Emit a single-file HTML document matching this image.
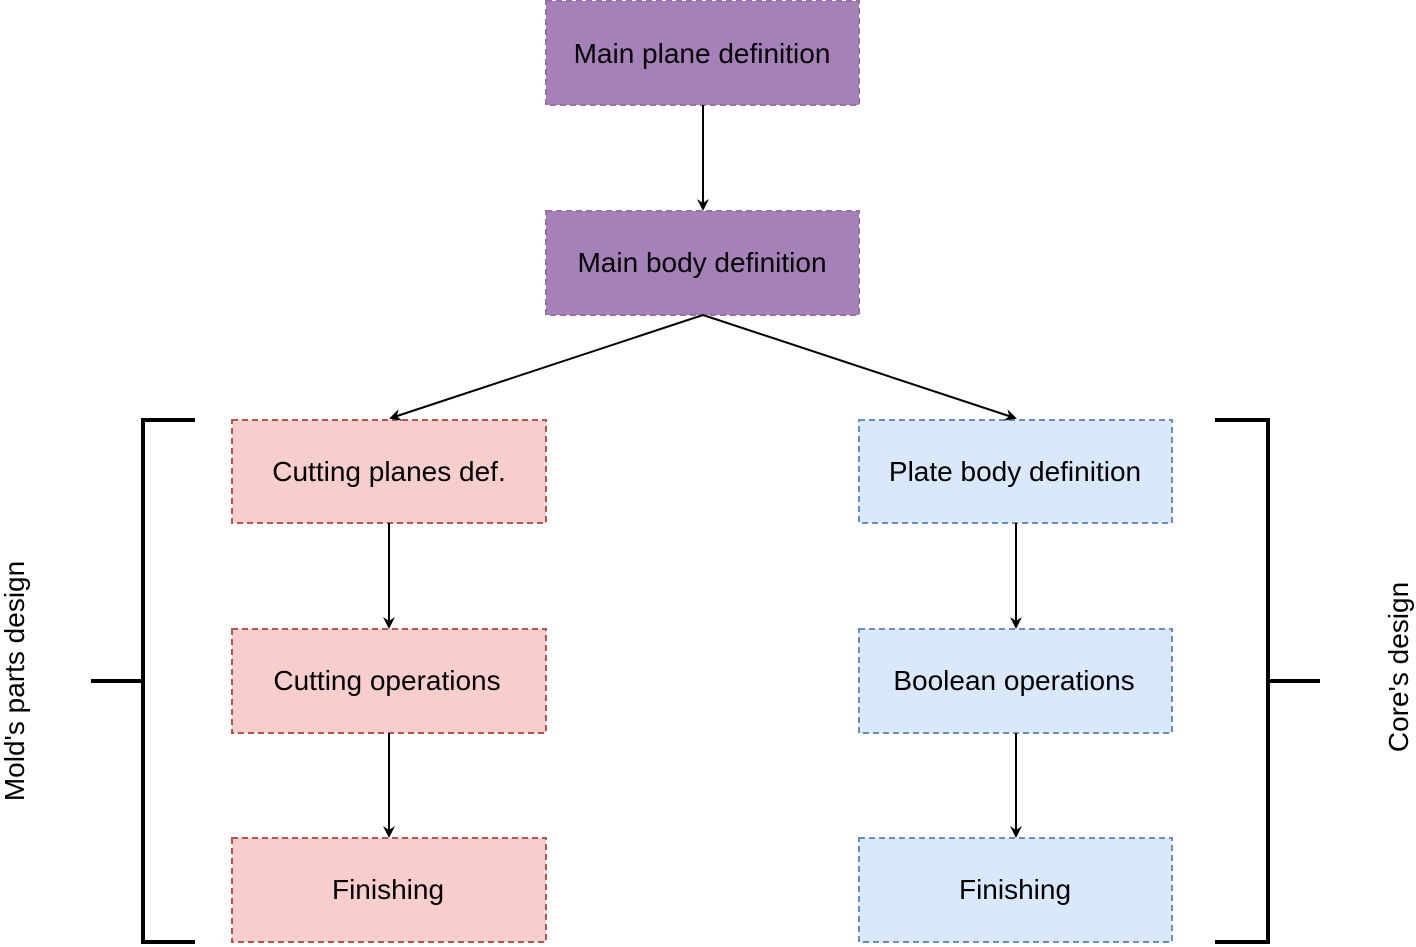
<!DOCTYPE html>
<html><head><style>body{margin:0;background:#fff}svg{display:block}</style></head><body>
<svg width="1416" height="947" viewBox="0 0 1416 947" font-family="Liberation Sans, Arial, sans-serif" font-size="28">
<defs><marker id="a" markerWidth="12" markerHeight="12" refX="10" refY="6" orient="auto" markerUnits="userSpaceOnUse"><path d="M0,0 L12,6 L0,12 L4,6 z" fill="#000"/></marker></defs>
<g stroke-dasharray="6,4" stroke-width="2">
<rect x="546" y="1" width="313" height="104" fill="#a680b8" stroke="#9673a6"/>
<rect x="546" y="211" width="313" height="104" fill="#a680b8" stroke="#9673a6"/>
<rect x="232" y="420" width="314" height="103" fill="#f8cecc" stroke="#b85450"/>
<rect x="232" y="629" width="314" height="104" fill="#f8cecc" stroke="#b85450"/>
<rect x="232" y="838" width="314" height="104" fill="#f8cecc" stroke="#b85450"/>
<rect x="859" y="420" width="313" height="103" fill="#dae8fc" stroke="#6c8ebf"/>
<rect x="859" y="629" width="313" height="104" fill="#dae8fc" stroke="#6c8ebf"/>
<rect x="859" y="838" width="313" height="104" fill="#dae8fc" stroke="#6c8ebf"/>
</g>
<g stroke="#000" stroke-width="2" fill="none" marker-end="url(#a)">
<line x1="703" y1="105" x2="703" y2="209"/>
<line x1="703" y1="315" x2="391" y2="418"/>
<line x1="703" y1="315" x2="1015" y2="418"/>
<line x1="389" y1="523" x2="389" y2="627"/>
<line x1="389" y1="733" x2="389" y2="836"/>
<line x1="1016" y1="523" x2="1016" y2="627"/>
<line x1="1016" y1="733" x2="1016" y2="836"/>
</g>
<g stroke="#000" stroke-width="4" fill="none">
<path d="M195,420 H143 V942 H195"/><line x1="91" y1="681" x2="143" y2="681"/>
<path d="M1215,420 H1268 V942 H1215"/><line x1="1268" y1="681" x2="1320" y2="681"/>
</g>
<g text-anchor="middle" fill="#000">
<text x="702" y="63">Main plane definition</text>
<text x="702" y="272">Main body definition</text>
<text x="389" y="481">Cutting planes def.</text>
<text x="387" y="690">Cutting operations</text>
<text x="388" y="899">Finishing</text>
<text x="1015" y="481">Plate body definition</text>
<text x="1014" y="690">Boolean operations</text>
<text x="1015" y="899">Finishing</text>
<text transform="translate(24,681) rotate(-90)">Mold's parts design</text>
<text transform="translate(1408,667) rotate(-90)">Core's design</text>
</g>
</svg>
</body></html>
